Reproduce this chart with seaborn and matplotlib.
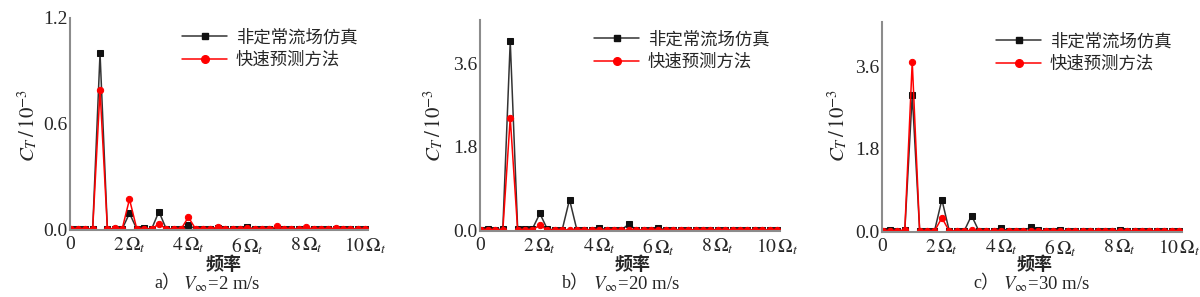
import numpy as np
import pandas as pd
import matplotlib
matplotlib.use("Agg")
import matplotlib.pyplot as plt
import seaborn as sns
from matplotlib.lines import Line2D

sns.set_theme(style="white")
plt.rcParams['font.family'] = ['Liberation Serif', 'Noto Sans CJK SC', 'DejaVu Sans']
plt.rcParams['mathtext.fontset'] = 'stix'

# frequency axis (multiples of rotor frequency Omega_t), step 0.25
freq = [i * 0.25 for i in range(41)]

def spectrum(peaks):
    v = [0.0] * 41
    for k, val in peaks.items():
        v[int(round(k / 0.25))] = val
    return v

# Panel a: V=2 m/s
cfd_a = spectrum({1.0: 1.0, 2.0: 0.09, 2.5: 0.005, 3.0: 0.10, 4.0: 0.023,
                  5.0: 0.005, 6.0: 0.013, 7.0: 0.004, 8.0: 0.003})
fast_a = spectrum({1.0: 0.79, 1.5: 0.004, 2.0: 0.17, 3.0: 0.03, 4.0: 0.068,
                   5.0: 0.013, 6.0: 0.005, 7.0: 0.015, 8.0: 0.01, 9.0: 0.007})
# Panel b: V=20 m/s
cfd_b = spectrum({0.25: 0.02, 0.75: 0.03, 1.0: 4.09, 1.25: 0.03, 1.5: 0.02,
                  1.75: 0.03, 2.0: 0.36, 2.25: 0.02, 2.5: 0.01, 3.0: 0.66,
                  4.0: 0.05, 4.25: 0.01, 5.0: 0.13, 6.0: 0.05, 7.0: 0.01, 8.0: 0.01})
fast_b = spectrum({1.0: 2.43, 2.0: 0.11, 3.0: 0.01, 7.0: 0.01})
# Panel c: V=30 m/s
cfd_c = spectrum({0.25: 0.03, 0.75: 0.02, 1.0: 2.99, 1.25: 0.01, 2.0: 0.69,
                  3.0: 0.34, 4.0: 0.07, 5.0: 0.09, 5.25: 0.02, 6.0: 0.02, 8.0: 0.02})
fast_c = spectrum({0.75: 0.03, 1.0: 3.71, 2.0: 0.29, 3.0: 0.02, 4.0: 0.01})

series_names = ['非定常流场仿真', '快速预测方法']
panel_tags = ['a）', 'b）', 'c）']
panel_speeds = [r'$V_{\infty}$=2 m/s', r'$V_{\infty}$=20 m/s', r'$V_{\infty}$=30 m/s']
xtick_vals = [0, 2, 4, 6, 8, 10]
xtick_labels = ['0', r'$2\,\Omega_t$', r'$4\,\Omega_t$', r'$6\,\Omega_t$', r'$8\,\Omega_t$', r'$10\,\Omega_t$']
ytick_sets = [[0.0, 0.6, 1.2], [0.0, 1.8, 3.6], [0.0, 1.8, 3.6]]
ytick_labels = [['0.0', '0.6', '1.2'], ['0.0', '1.8', '3.6'], ['0.0', '1.8', '3.6']]
ylims = [(-0.005, 1.2), (-0.02, 4.55), (-0.02, 4.58)]
data = [(cfd_a, fast_a), (cfd_b, fast_b), (cfd_c, fast_c)]

fig = plt.figure(figsize=(12, 2.97), dpi=100)
positions = [
    (70/1200, (297-230)/297, 298/1200, 212/297),
    (480/1200, (297-231)/297, 300/1200, 211/297),
    (882/1200, (297-232)/297, 300/1200, 210/297),
]
tag_right = [180, 589, 999]
speed_left = [183, 593, 1003]
label_x = [224, 633, 1035]
ylabel_x = [28, 434, 838]

black = '#111111'
line_black = '#333333'
red = '#ff0000'

for i, (pos, (cfd, fast)) in enumerate(zip(positions, data)):
    ax = fig.add_axes(pos)
    df = pd.DataFrame({'freq': freq + freq,
                       'ct': cfd + fast,
                       'method': [series_names[0]] * 41 + [series_names[1]] * 41})
    sns.lineplot(data=df[df.method == series_names[0]], x='freq', y='ct', ax=ax,
                 color=line_black, lw=1.1, marker='s', markersize=4,
                 markerfacecolor=black, markeredgecolor=black, legend=False)
    sns.lineplot(data=df[df.method == series_names[1]], x='freq', y='ct', ax=ax,
                 color=red, lw=1.1, marker='o', markersize=4.5,
                 markerfacecolor=red, markeredgecolor=red, legend=False)
    ax.set_xlim(-0.02, 10.1)
    ax.set_ylim(*ylims[i])
    ax.set_xticks(xtick_vals)
    ax.set_xticklabels(xtick_labels, fontsize=14)
    ax.set_yticks(ytick_sets[i])
    ax.set_yticklabels(ytick_labels[i], fontsize=14)
    ax.set_xlabel('')
    ax.set_ylabel('')
    for s in ['top', 'right']:
        ax.spines[s].set_visible(False)
    for s in ['left', 'bottom']:
        ax.spines[s].set_color('#8c8c8c')
        ax.spines[s].set_linewidth(1.5)
    ax.tick_params(axis='both', direction='in', length=3, width=1, color='#8c8c8c')
    ax.tick_params(axis='y', pad=2)
    ax.tick_params(axis='x', pad=4)
    handles = [Line2D([], [], color=line_black, lw=1.1, marker='s', markersize=5,
                      markerfacecolor=black, markeredgecolor=black),
               Line2D([], [], color=red, lw=1.1, marker='o', markersize=5.5,
                      markerfacecolor=red, markeredgecolor=red)]
    ax.legend(handles, series_names, loc='upper right', frameon=False,
              prop={'family': ['Noto Sans CJK SC'], 'size': 12.5},
              handlelength=2.6, handletextpad=0.5, labelspacing=0.25,
              borderaxespad=0.2, bbox_to_anchor=(1.0, 1.0))
    fig.text(ylabel_x[i]/1200, 1 - 125/297, r'$C_T\,/\,\mathrm{10}^{-3}$', rotation=90,
             ha='center', va='center', fontsize=15)
    fig.text(label_x[i]/1200, 1 - 265/297, '频率', ha='center', va='center',
             fontsize=13, family=['Noto Sans CJK SC'], fontweight='bold')
    fig.text(tag_right[i]/1200, 1 - 284/297, panel_tags[i], ha='right', va='center',
             fontsize=13, family=['Liberation Serif', 'Noto Sans CJK SC'])
    fig.text(speed_left[i]/1200, 1 - 284/297, panel_speeds[i], ha='left', va='center',
             fontsize=13.5)

fig.savefig('out.png', dpi=100)
